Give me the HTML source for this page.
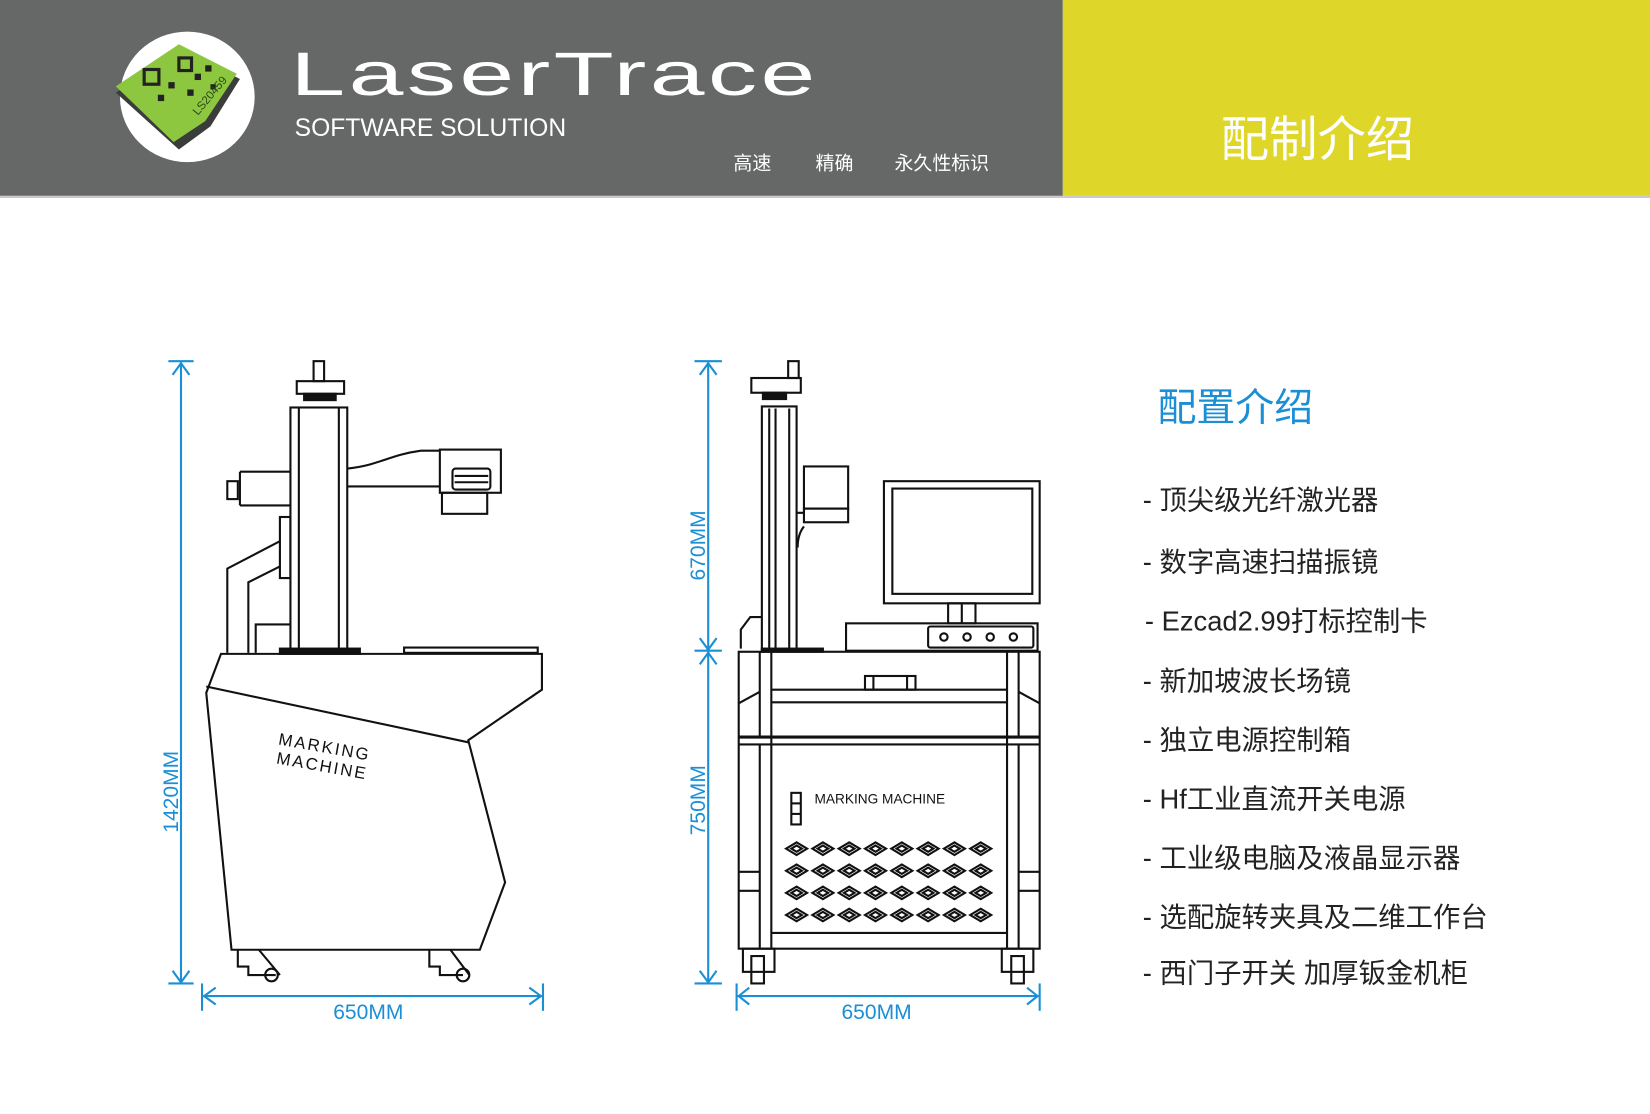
<!DOCTYPE html>
<html><head><meta charset="utf-8"><style>
html,body{margin:0;padding:0;background:#fff;}
svg{display:block;}
text{font-family:"Liberation Sans","Noto Sans CJK SC",sans-serif;}
</style></head><body>
<svg width="1650" height="1114" viewBox="0 0 1568 1058" preserveAspectRatio="none" xmlns="http://www.w3.org/2000/svg">
<rect x="0" y="0" width="1010" height="186" fill="#656866"/>
<rect x="1010" y="0" width="558" height="186" fill="#dfd62a"/>
<rect x="0" y="186" width="1568" height="2" fill="#c8c8c8"/>
<!-- logo -->
<ellipse cx="178" cy="92" rx="64" ry="62" fill="#fff"/>
<polygon points="110,88 175,48 228,75 200,120 170,142" fill="#3a3d3a"/>
<polygon points="110,82 170,42 225,70 195,115 165,135" fill="#8dc63f"/>
<g fill="#222">
<rect x="137" y="66" width="14" height="14" fill="none" stroke="#222" stroke-width="3"/>
<rect x="170" y="55" width="12" height="12" fill="none" stroke="#222" stroke-width="3"/>
<rect x="185" y="70" width="6" height="6"/><rect x="160" y="78" width="6" height="6"/><rect x="195" y="62" width="6" height="6"/><rect x="178" y="85" width="6" height="6"/><rect x="150" y="90" width="6" height="6"/><rect x="200" y="80" width="5" height="5"/>
</g>
<text x="188" y="110" font-size="11" fill="#2a4a1a" transform="rotate(-50 188 110)">LS20459</text>
<text x="276" y="90" font-size="58" fill="#fff" letter-spacing="2" textLength="502" lengthAdjust="spacingAndGlyphs">LaserTrace</text>
<text x="280" y="129" font-size="24" fill="#fff" textLength="258" lengthAdjust="spacingAndGlyphs">SOFTWARE SOLUTION</text>
<text x="697" y="161" font-size="18" fill="#fff">高速</text>
<text x="775" y="161" font-size="18" fill="#fff">精确</text>
<text x="850" y="161" font-size="18" fill="#fff">永久性标识</text>
<text x="1252" y="148" font-size="46" fill="#fff" text-anchor="middle">配制介绍</text>

<!-- right text -->
<text x="1100" y="400" font-size="37" fill="#1a8fd6">配置介绍</text>
<g font-size="26" fill="#222">
<text x="1086" y="484">- 顶尖级光纤激光器</text>
<text x="1086" y="543">- 数字高速扫描振镜</text>
<text x="1088" y="599">- Ezcad2.99打标控制卡</text>
<text x="1086" y="656">- 新加坡波长场镜</text>
<text x="1086" y="712">- 独立电源控制箱</text>
<text x="1086" y="768">- Hf工业直流开关电源</text>
<text x="1086" y="824">- 工业级电脑及液晶显示器</text>
<text x="1086" y="880">- 选配旋转夹具及二维工作台</text>
<text x="1086" y="933">- 西门子开关 加厚钣金机柜</text>
</g>

<!-- dimension lines -->
<g stroke="#1a8fd6" stroke-width="2" fill="none">
<line x1="172" y1="344" x2="172" y2="933"/><line x1="160" y1="343" x2="184" y2="343"/><line x1="160" y1="934" x2="184" y2="934"/>
<polyline points="164,356 172,345 180,356"/><polyline points="164,922 172,933 180,922"/>
<line x1="193" y1="946" x2="515" y2="946"/><line x1="192" y1="934" x2="192" y2="960"/><line x1="516" y1="934" x2="516" y2="960"/>
<polyline points="205,938 194,946 205,954"/><polyline points="503,938 514,946 503,954"/>
<line x1="673" y1="344" x2="673" y2="933"/><line x1="660" y1="343" x2="686" y2="343"/><line x1="660" y1="618" x2="686" y2="618"/><line x1="660" y1="934" x2="686" y2="934"/>
<polyline points="665,356 673,345 681,356"/><polyline points="665,606 673,617 681,606"/><polyline points="665,631 673,620 681,631"/><polyline points="665,922 673,933 681,922"/>
<line x1="701" y1="946" x2="987" y2="946"/><line x1="700" y1="934" x2="700" y2="960"/><line x1="988" y1="934" x2="988" y2="960"/>
<polyline points="712,938 702,946 712,954"/><polyline points="976,938 986,946 976,954"/>
</g>
<g font-size="20" fill="#1a8fd6">
<text x="350" y="968" text-anchor="middle">650MM</text>
<text x="833" y="968" text-anchor="middle">650MM</text>
<text x="0" y="0" text-anchor="middle" transform="translate(169,752) rotate(-90)">1420MM</text>
<text x="0" y="0" text-anchor="middle" transform="translate(670,518) rotate(-90)">670MM</text>
<text x="0" y="0" text-anchor="middle" transform="translate(670,760) rotate(-90)">750MM</text>
</g>

<!-- left machine -->
<g stroke="#111" stroke-width="2" fill="none">
<rect x="298" y="343" width="10" height="19"/>
<rect x="282" y="362" width="45" height="12"/>
<rect x="289" y="374" width="30" height="6" fill="#111"/>
<rect x="276" y="387" width="54" height="232"/>
<line x1="284" y1="387" x2="284" y2="619"/><line x1="322" y1="387" x2="322" y2="619"/>
<path d="M228,448 L276,448 M228,480 L276,480 M228,448 L228,480"/>
<rect x="216" y="457" width="10" height="17"/>
<path d="M330,445 C360,442 370,432 400,428 L418,428 M330,462 L418,462"/>
<rect x="418" y="427" width="58" height="41"/>
<rect x="430" y="445" width="36" height="20" rx="3"/>
<line x1="432" y1="452" x2="464" y2="452"/><line x1="432" y1="458" x2="464" y2="458"/>
<rect x="420" y="468" width="43" height="20"/>
<rect x="266" y="491" width="10" height="58"/>
<path d="M216,620 L216,540 L266,514 M236,620 L236,553 L266,538 M243,620 L243,593 L276,593"/>
<rect x="266" y="616" width="76" height="5" fill="#111"/>
<rect x="384" y="615" width="127" height="5"/>
<path d="M210,621 L515,621 L515,655 L445,703 L480,838 L456,902 L220,902 L196,658 Z"/>
<path d="M196,652 L445,705"/>
<path d="M226,902 L226,918 L236,918 L236,926 L262,926 M246,902 L266,926"/>
<circle cx="258" cy="926" r="6"/>
<path d="M408,902 L408,918 L418,918 L418,926 L440,926 M428,902 L446,926"/>
<circle cx="440" cy="926" r="6"/>
</g>
<g font-family="Liberation Serif,serif" font-size="16" fill="#111">
<text x="264" y="707" transform="rotate(10 264 707)" letter-spacing="2">MARKING</text>
<text x="262" y="725" transform="rotate(10 262 725)" letter-spacing="2">MACHINE</text>
</g>

<!-- right machine -->
<g stroke="#111" stroke-width="2" fill="none">
<rect x="749" y="343" width="10" height="16"/>
<rect x="714" y="359" width="47" height="14"/>
<rect x="725" y="373" width="22" height="6" fill="#111"/>
<rect x="724" y="386" width="33" height="232"/>
<line x1="731" y1="388" x2="731" y2="618"/><line x1="737" y1="388" x2="737" y2="618"/><line x1="750" y1="388" x2="750" y2="618"/>
<rect x="764" y="443" width="42" height="40"/>
<rect x="764" y="483" width="42" height="13"/>
<path d="M757,487 L764,487 M764,500 C760,505 758,512 758,520"/>
<path d="M704,616 L704,598 L713,586 L724,586"/>
<rect x="724" y="616" width="58" height="3" fill="#111"/>
<rect x="840" y="457" width="148" height="116"/>
<rect x="848" y="464" width="133" height="100"/>
<rect x="901" y="573" width="26" height="19"/><line x1="914" y1="573" x2="914" y2="592"/>
<rect x="804" y="592" width="182" height="26"/>
<rect x="882" y="595" width="100" height="20" rx="2"/>
<circle cx="897" cy="605" r="3.5"/><circle cx="919" cy="605" r="3.5"/><circle cx="941" cy="605" r="3.5"/><circle cx="963" cy="605" r="3.5"/>
<rect x="702" y="619" width="286" height="282"/>
<line x1="702" y1="700" x2="988" y2="700" stroke-width="3"/>
<line x1="702" y1="707" x2="988" y2="707"/>
<line x1="722" y1="619" x2="722" y2="700"/><line x1="733" y1="619" x2="733" y2="900"/>
<line x1="957" y1="619" x2="957" y2="900"/><line x1="968" y1="619" x2="968" y2="700"/>
<line x1="733" y1="655" x2="957" y2="655"/><line x1="733" y1="667" x2="957" y2="667"/>
<rect x="822" y="642" width="48" height="13"/><line x1="830" y1="642" x2="830" y2="655"/><line x1="862" y1="642" x2="862" y2="655"/>
<path d="M702,668 L722,657 M988,668 L968,657"/>
<line x1="722" y1="707" x2="722" y2="900"/><line x1="968" y1="707" x2="968" y2="900"/>
<line x1="702" y1="828" x2="722" y2="828"/><line x1="702" y1="846" x2="722" y2="846"/>
<line x1="968" y1="828" x2="988" y2="828"/><line x1="968" y1="846" x2="988" y2="846"/>
<line x1="733" y1="886" x2="957" y2="886"/>
<rect x="752" y="753" width="9" height="30"/><line x1="752" y1="763" x2="761" y2="763"/><line x1="752" y1="773" x2="761" y2="773"/>
<rect x="706" y="901" width="30" height="22"/><rect x="714" y="908" width="12" height="26"/>
<rect x="952" y="901" width="30" height="22"/><rect x="961" y="908" width="12" height="26"/>
</g>
<text x="774" y="763" font-size="13" fill="#111">MARKING  MACHINE</text>
<g stroke="#111" stroke-width="2" fill="none">
<g id="row">
<path d="M747,806 l10,-6 l10,6 l-10,6 z M752,806 l5,-3 l5,3 l-5,3 z"/>
<path d="M772,806 l10,-6 l10,6 l-10,6 z M777,806 l5,-3 l5,3 l-5,3 z"/>
<path d="M797,806 l10,-6 l10,6 l-10,6 z M802,806 l5,-3 l5,3 l-5,3 z"/>
<path d="M822,806 l10,-6 l10,6 l-10,6 z M827,806 l5,-3 l5,3 l-5,3 z"/>
<path d="M847,806 l10,-6 l10,6 l-10,6 z M852,806 l5,-3 l5,3 l-5,3 z"/>
<path d="M872,806 l10,-6 l10,6 l-10,6 z M877,806 l5,-3 l5,3 l-5,3 z"/>
<path d="M897,806 l10,-6 l10,6 l-10,6 z M902,806 l5,-3 l5,3 l-5,3 z"/>
<path d="M922,806 l10,-6 l10,6 l-10,6 z M927,806 l5,-3 l5,3 l-5,3 z"/>
</g>
<use href="#row" y="21"/><use href="#row" y="42"/><use href="#row" y="63"/>
</g>
</svg>
</body></html>
